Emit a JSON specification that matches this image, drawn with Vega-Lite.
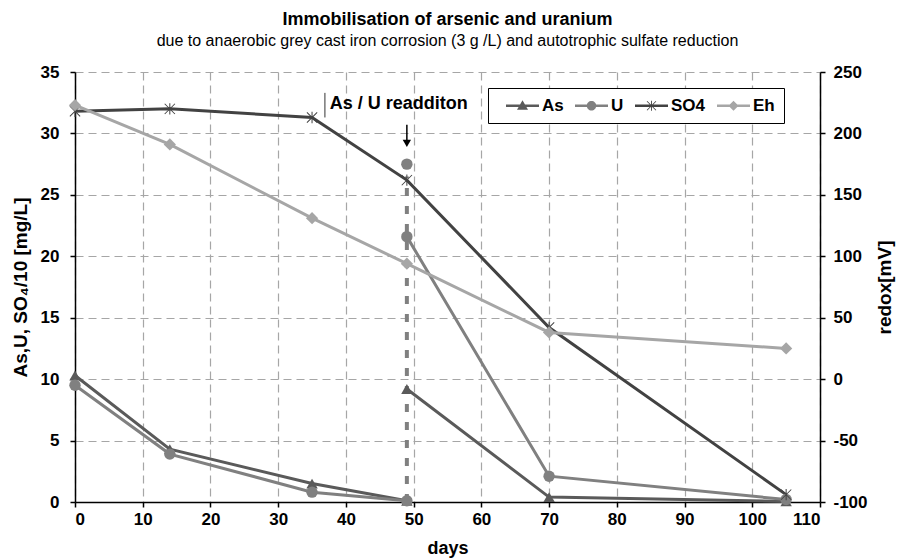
{
  "$schema": "https://vega.github.io/schema/vega-lite/v6.json",
  "width": 745,
  "height": 430,
  "autosize": {"type": "none"},
  "padding": {"left": 75, "top": 72, "right": 78, "bottom": 57},
  "background": "white",
  "config": {
    "view": {"stroke": null},
    "font": "Liberation Sans",
    "axis": {
      "labelFont": "Liberation Sans",
      "labelFontWeight": "bold",
      "labelFontSize": 17,
      "labelColor": "black",
      "titleFont": "Liberation Sans",
      "titleFontWeight": "bold",
      "titleFontSize": 18,
      "titleColor": "black",
      "domainColor": "black",
      "domainWidth": 1.5,
      "tickColor": "black",
      "tickWidth": 1.5,
      "tickSize": 5,
      "gridColor": "#a6a6a6",
      "gridDash": [8, 5],
      "gridWidth": 1.2
    },
    "legend": {
      "orient": "none",
      "legendX": 413,
      "legendY": 16,
      "direction": "horizontal",
      "strokeColor": "black",
      "fillColor": "white",
      "padding": 9,
      "labelFont": "Liberation Sans",
      "labelFontWeight": "bold",
      "labelFontSize": 17,
      "labelColor": "black",
      "symbolSize": 100,
      "symbolOffset": 17,
      "labelOffset": 11,
      "columnPadding": 2,
      "symbolOpacity": 1,
      "symbolStrokeWidth": 0
    }
  },
  "title": {
    "text": "Immobilisation of arsenic and uranium",
    "subtitle": "due to anaerobic grey cast iron corrosion (3 g /L) and autotrophic sulfate reduction",
    "font": "Liberation Sans",
    "fontSize": 18,
    "fontWeight": "bold",
    "color": "black",
    "subtitleFont": "Liberation Sans",
    "subtitleFontSize": 16,
    "subtitleColor": "black",
    "subtitlePadding": 4,
    "anchor": "middle",
    "offset": 14
  },
  "datasets": {
    "d": [
      {"day": 0, "value": 10.3, "series": "As", "seg": "a1"},
      {"day": 14, "value": 4.3, "series": "As", "seg": "a1"},
      {"day": 35, "value": 1.5, "series": "As", "seg": "a1"},
      {"day": 49, "value": 0.1, "series": "As", "seg": "a1"},
      {"day": 49, "value": 9.2, "series": "As", "seg": "a2"},
      {"day": 70, "value": 0.4, "series": "As", "seg": "a2"},
      {"day": 105, "value": 0.05, "series": "As", "seg": "a2"},
      {"day": 0, "value": 9.5, "series": "U", "seg": "u1"},
      {"day": 14, "value": 3.9, "series": "U", "seg": "u1"},
      {"day": 35, "value": 0.8, "series": "U", "seg": "u1"},
      {"day": 49, "value": 0.1, "series": "U", "seg": "u1"},
      {"day": 49, "value": 27.5, "series": "U", "seg": "u3"},
      {"day": 49, "value": 21.6, "series": "U", "seg": "u2"},
      {"day": 70, "value": 2.1, "series": "U", "seg": "u2"},
      {"day": 105, "value": 0.2, "series": "U", "seg": "u2"},
      {"day": 0, "value": 31.8, "series": "SO4", "seg": "s1"},
      {"day": 14, "value": 32.0, "series": "SO4", "seg": "s1"},
      {"day": 35, "value": 31.3, "series": "SO4", "seg": "s1"},
      {"day": 49, "value": 26.2, "series": "SO4", "seg": "s1"},
      {"day": 70, "value": 14.2, "series": "SO4", "seg": "s1"},
      {"day": 105, "value": 0.6, "series": "SO4", "seg": "s1"},
      {"day": 0, "value": 223, "series": "Eh", "seg": "e1"},
      {"day": 14, "value": 191, "series": "Eh", "seg": "e1"},
      {"day": 35, "value": 131, "series": "Eh", "seg": "e1"},
      {"day": 49, "value": 94, "series": "Eh", "seg": "e1"},
      {"day": 70, "value": 38, "series": "Eh", "seg": "e1"},
      {"day": 105, "value": 25, "series": "Eh", "seg": "e1"}
    ],
    "readd": [{"day": 49, "lo": 0, "hi": 26.5}],
    "note": [{"day": 37.6, "y": 32.4, "label": "As / U readditon"}],
    "mark": [{"day": 36.9, "lo": 31.3, "hi": 33.3}],
    "arrow": [{"day": 49, "top": 30.7, "tip": 29.2}]
  },
  "data": {"name": "d"},
  "layer": [
    {
      "layer": [
        {
          "data": {"name": "readd"},
          "mark": {"type": "rule", "color": "#808080", "strokeWidth": 4, "strokeDash": [8, 10]},
          "encoding": {
            "x": {"field": "day", "type": "quantitative"},
            "y": {"field": "lo", "type": "quantitative"},
            "y2": {"field": "hi"}
          }
        },
        {
          "transform": [{"filter": "datum.series != 'Eh'"}],
          "mark": {"type": "line", "strokeWidth": 3},
          "encoding": {
            "x": {
              "field": "day", "type": "quantitative",
              "scale": {"domain": [0, 110], "nice": false, "zero": false},
              "axis": {
                "title": "days",
                "values": [0, 5, 10, 15, 20, 25, 30, 35, 40, 45, 50, 55, 60, 65, 70, 75, 80, 85, 90, 95, 100, 105, 110],
                "labelExpr": "datum.value % 10 === 0 ? datum.label : ''",
                "gridOpacity": {"condition": {"test": "datum.value % 10 === 0", "value": 1}, "value": 0},
                "labelPadding": 4,
                "titlePadding": 12
              }
            },
            "y": {
              "field": "value", "type": "quantitative",
              "scale": {"domain": [0, 35], "nice": false},
              "axis": {
                "title": "As,U, SO₄/10 [mg/L]",
                "titleFontSize": 19,
                "values": [0, 2.5, 5, 7.5, 10, 12.5, 15, 17.5, 20, 22.5, 25, 27.5, 30, 32.5, 35],
                "labelExpr": "datum.value % 5 === 0 ? datum.label : ''",
                "gridOpacity": {"condition": {"test": "datum.value % 5 === 0", "value": 1}, "value": 0},
                "labelPadding": 11,
                "titlePadding": 10
              }
            },
            "color": {
              "field": "series", "type": "nominal", "legend": null,
              "scale": {"domain": ["As", "U", "SO4"], "range": ["#5a5a5a", "#808080", "#424242"]}
            },
            "detail": {"field": "seg"}
          }
        },
        {
          "transform": [{"filter": "datum.series != 'Eh'"}],
          "mark": {"type": "point", "filled": true, "opacity": 1, "size": 130},
          "encoding": {
            "x": {"field": "day", "type": "quantitative"},
            "y": {"field": "value", "type": "quantitative"},
            "color": {"field": "series", "type": "nominal", "legend": null},
            "shape": {
              "field": "series", "type": "nominal", "legend": null,
              "scale": {"domain": ["As", "U", "SO4"], "range": ["triangle-up", "circle", "M-0.09,-1H0.09V1H-0.09Z M-0.84,-0.96L0.96,0.84L0.84,0.96L-0.96,-0.84Z M-0.96,0.84L0.84,-0.96L0.96,-0.84L-0.84,0.96Z"]}
            }
          }
        },
        {
          "data": {"name": "note"},
          "mark": {"type": "text", "align": "left", "baseline": "middle", "font": "Liberation Sans", "fontWeight": "bold", "fontSize": 18, "color": "black"},
          "encoding": {
            "x": {"field": "day", "type": "quantitative"},
            "y": {"field": "y", "type": "quantitative"},
            "text": {"field": "label"}
          }
        },
        {
          "data": {"name": "mark"},
          "mark": {"type": "rule", "color": "#333333", "strokeWidth": 1},
          "encoding": {
            "x": {"field": "day", "type": "quantitative"},
            "y": {"field": "lo", "type": "quantitative"},
            "y2": {"field": "hi"}
          }
        },
        {
          "data": {"name": "arrow"},
          "mark": {"type": "rule", "color": "black", "strokeWidth": 1.5},
          "encoding": {
            "x": {"field": "day", "type": "quantitative"},
            "y": {"field": "top", "type": "quantitative"},
            "y2": {"field": "tip"}
          }
        },
        {
          "data": {"name": "arrow"},
          "mark": {"type": "point", "shape": "triangle-down", "filled": true, "color": "black", "size": 70, "opacity": 1},
          "encoding": {
            "x": {"field": "day", "type": "quantitative"},
            "y": {"field": "tip", "type": "quantitative"}
          }
        }
      ]
    },
    {
      "transform": [{"filter": "datum.series == 'Eh'"}],
      "layer": [
        {
          "mark": {"type": "line", "strokeWidth": 3, "color": "#a6a6a6"},
          "encoding": {
            "x": {"field": "day", "type": "quantitative"},
            "y": {
              "field": "value", "type": "quantitative",
              "scale": {"domain": [-100, 250], "nice": false, "zero": false},
              "axis": {
                "orient": "right",
                "title": "redox[mV]",
                "titleFontSize": 19,
                "titleAngle": 270,
                "titleBaseline": "top",
                "grid": false,
                "values": [-100, -75, -50, -25, 0, 25, 50, 75, 100, 125, 150, 175, 200, 225, 250],
                "labelExpr": "datum.value % 50 === 0 ? '' + datum.value : ''",
                "labelPadding": 8,
                "titlePadding": 8
              }
            }
          }
        },
        {
          "mark": {"type": "point", "shape": "diamond", "filled": true, "opacity": 1, "size": 150, "color": "#a6a6a6"},
          "encoding": {
            "x": {"field": "day", "type": "quantitative"},
            "y": {"field": "value", "type": "quantitative"}
          }
        }
      ]
    },
    {
      "transform": [{"filter": "datum.day == 0"}],
      "mark": {"type": "point", "filled": true, "opacity": 0},
      "encoding": {
        "x": {"field": "day", "type": "quantitative"},
        "y": {"field": "value", "type": "quantitative", "axis": null, "scale": {"domain": [0, 1000]}},
        "color": {
          "field": "series", "type": "nominal",
          "scale": {"domain": ["As", "U", "SO4", "Eh"], "range": ["#5a5a5a", "#808080", "#424242", "#a6a6a6"]},
          "legend": {"title": null, "orient": "none", "legendX": 413, "legendY": 16, "direction": "horizontal", "symbolOpacity": 1}
        },
        "shape": {
          "field": "series", "type": "nominal",
          "scale": {
            "domain": ["As", "U", "SO4", "Eh"],
            "range": [
              "M-3.3,-0.25H3.3V0.25H-3.3Z M0,-1.1L1.1,0.8L-1.1,0.8Z",
              "M-3.3,-0.25H3.3V0.25H-3.3Z M-0.95,0A0.95,0.95 0 1,1 0.95,0A0.95,0.95 0 1,1 -0.95,0Z",
              "M-3.3,-0.25H3.3V0.25H-3.3Z M-0.09,-1H0.09V1H-0.09Z M-0.84,-0.96L0.96,0.84L0.84,0.96L-0.96,-0.84Z M-0.96,0.84L0.84,-0.96L0.96,-0.84L-0.84,0.96Z",
              "M-3.3,-0.25H3.3V0.25H-3.3Z M0,-1L1,0L0,1L-1,0Z"
            ]
          },
          "legend": {"title": null, "orient": "none", "legendX": 413, "legendY": 16, "direction": "horizontal", "symbolOpacity": 1}
        }
      }
    }
  ],
  "resolve": {"scale": {"y": "independent", "color": "independent", "shape": "independent"}}
}
